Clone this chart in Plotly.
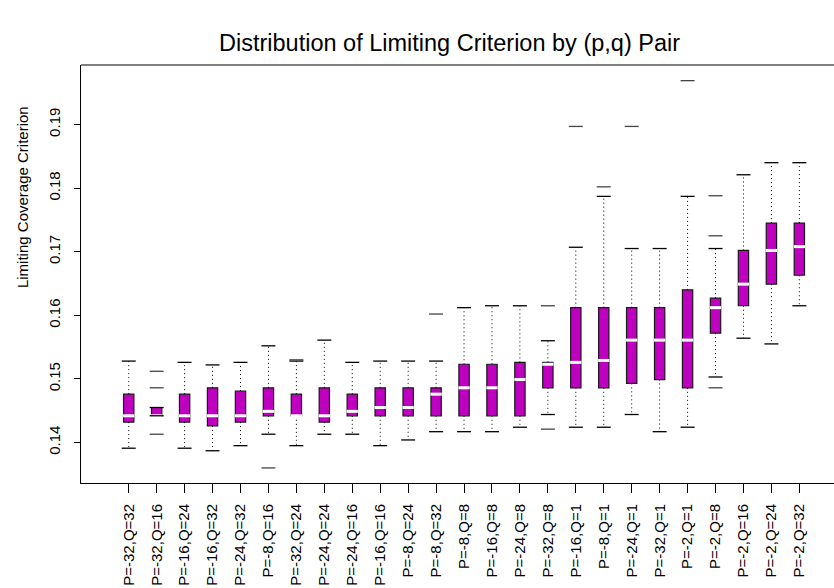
import plotly.graph_objects as go

labels = ["P=-32,Q=32", "P=-32,Q=16", "P=-16,Q=24", "P=-16,Q=32", "P=-24,Q=32",
          "P=-8,Q=16", "P=-32,Q=24", "P=-24,Q=24", "P=-24,Q=16", "P=-16,Q=16",
          "P=-8,Q=24", "P=-8,Q=32", "P=-8,Q=8", "P=-16,Q=8", "P=-24,Q=8",
          "P=-32,Q=8", "P=-16,Q=1", "P=-8,Q=1", "P=-24,Q=1", "P=-32,Q=1",
          "P=-2,Q=1", "P=-2,Q=8", "P=-2,Q=16", "P=-2,Q=24", "P=-2,Q=32"]

lower = [0.1391, 0.1442, 0.1391, 0.1387, 0.1395, 0.1413, 0.1395, 0.1413, 0.1413, 0.1395,
         0.1404, 0.1417, 0.1417, 0.1417, 0.1424, 0.1444, 0.1424, 0.1424, 0.1444, 0.1417,
         0.1424, 0.1503, 0.1564, 0.1555, 0.1615]
q1 = [0.1432, 0.1442, 0.1432, 0.1426, 0.1432, 0.1442, 0.1442, 0.1432, 0.1442, 0.1442,
      0.1442, 0.1442, 0.1442, 0.1442, 0.1442, 0.1486, 0.1486, 0.1486, 0.1493, 0.1499,
      0.1486, 0.1572, 0.1615, 0.1649, 0.1663]
median = [0.1442, 0.1442, 0.1442, 0.1442, 0.1442, 0.1449, 0.1442, 0.1442, 0.1449, 0.1455,
          0.1455, 0.1476, 0.1486, 0.1486, 0.1499, 0.1523, 0.1526, 0.1529, 0.1561, 0.1561,
          0.1561, 0.1612, 0.1649, 0.1702, 0.1708]
q3 = [0.1476, 0.1455, 0.1476, 0.1486, 0.1481, 0.1486, 0.1476, 0.1486, 0.1476, 0.1486,
      0.1486, 0.1486, 0.1523, 0.1523, 0.1526, 0.1526, 0.1612, 0.1612, 0.1612, 0.1612,
      0.1640, 0.1627, 0.1702, 0.1745, 0.1745]
upper = [0.1528, 0.1455, 0.1526, 0.1522, 0.1526, 0.1552, 0.1528, 0.1561, 0.1526, 0.1528,
         0.1528, 0.1528, 0.1612, 0.1615, 0.1615, 0.1560, 0.1707, 0.1787, 0.1705, 0.1705,
         0.1787, 0.1705, 0.1821, 0.1840, 0.1840]

outlier_group = [2, 2, 2, 6, 7, 12, 16, 16, 17, 18, 19, 21, 22, 22, 22]
outlier_value = [0.1512, 0.1486, 0.1413, 0.1360, 0.1530, 0.1602, 0.1615, 0.1421, 0.1897,
                 0.1802, 0.1897, 0.1969, 0.1788, 0.1725, 0.1486]

y_ticks = [0.14, 0.15, 0.16, 0.17, 0.18, 0.19]

FONT = "Liberation Sans, Arial, sans-serif"
FILL = "#C000C0"

pos = list(range(1, len(labels) + 1))

wx, wy = [], []
for p, lo, a, b, hi in zip(pos, lower, q1, q3, upper):
    wx += [p, p, None, p, p, None]
    wy += [b, hi, None, a, lo, None]

fig = go.Figure()
fig.add_trace(go.Scatter(x=wx, y=wy, mode="lines",
                         line=dict(color="black", width=1, dash="1px,3px"),
                         hoverinfo="skip"))
fig.add_trace(go.Bar(x=pos, y=[b - a for a, b in zip(q1, q3)], base=q1, width=0.37,
                     marker=dict(color=FILL, line=dict(color="#1a1a1a", width=1.2))))
fig.add_trace(go.Scatter(x=pos, y=median, mode="markers",
                         marker=dict(symbol="line-ew-open", size=8, color="white",
                                     line=dict(color="white", width=3))))
fig.add_trace(go.Scatter(x=pos + pos, y=lower + upper, mode="markers",
                         marker=dict(symbol="line-ew-open", size=10, color="black",
                                     line=dict(color="black", width=1.3))))
fig.add_trace(go.Scatter(x=outlier_group, y=outlier_value, mode="markers",
                         marker=dict(symbol="line-ew-open", size=10, color="#444444",
                                     line=dict(color="#444444", width=1.3))))

fig.update_layout(
    width=834, height=588,
    margin=dict(l=81, r=0, t=65, b=105),
    plot_bgcolor="white", paper_bgcolor="white",
    showlegend=False,
    font=dict(family=FONT, color="black"),
    xaxis=dict(range=[-0.708, 26.24], tickvals=pos, ticktext=labels, tickangle=-90,
               ticks="outside", ticklen=9, tickcolor="black", showline=True,
               linecolor="black", linewidth=1, showgrid=False, zeroline=False,
               tickfont=dict(size=15, family=FONT, color="black"), ticklabelstandoff=5),
    yaxis=dict(range=[0.13363, 0.19936], tickvals=y_ticks,
               ticktext=[f"{v:.2f}" for v in y_ticks], tickangle=-90,
               ticks="outside", ticklen=6, tickcolor="black", showline=True,
               linecolor="black", linewidth=1, showgrid=False, zeroline=False,
               tickfont=dict(size=15, family=FONT, color="black"), ticklabelstandoff=8),
    shapes=[dict(type="line", xref="paper", yref="paper", x0=0, x1=1, y0=1, y1=1,
                 line=dict(color="black", width=1))],
    annotations=[
        dict(text="Distribution of Limiting Criterion by (p,q) Pair", xref="paper",
             yref="paper", x=0.49, y=1.053, xanchor="center", yanchor="middle",
             showarrow=False, font=dict(size=23.5, family=FONT, color="black")),
        dict(text="Limiting Coverage Criterion", xref="paper", yref="paper",
             x=-0.0784, y=0.684, xanchor="center", yanchor="middle", textangle=-90,
             showarrow=False, font=dict(size=15, family=FONT, color="black")),
    ],
)

fig.write_html("out.html")
